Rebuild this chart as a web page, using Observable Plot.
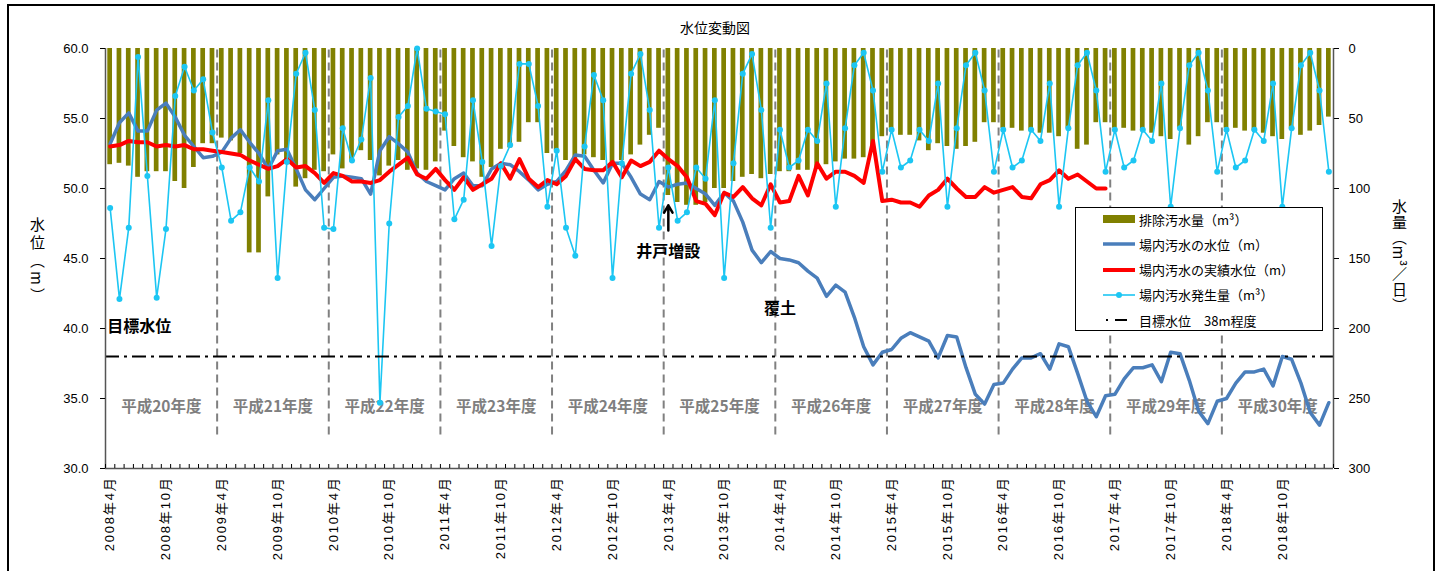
<!DOCTYPE html>
<html><head><meta charset="utf-8">
<script src="https://cdn.jsdelivr.net/npm/d3@7"></script>
<script src="https://cdn.jsdelivr.net/npm/@observablehq/plot@0.6"></script>
<style>
body{margin:0;background:#fff;}
#wrap{position:relative;width:1444px;height:571px;overflow:hidden;font-family:"Liberation Sans","Noto Sans CJK JP",sans-serif;background:#fff;}
#frame{position:absolute;left:7px;top:4px;width:1424px;height:700px;border:2px solid #000;pointer-events:none;}
#title{position:absolute;left:0;width:1430px;top:17px;text-align:center;font-size:14px;font-family:"Noto Sans CJK JP",sans-serif;}
.vlab{position:absolute;writing-mode:vertical-rl;font-size:15px;font-family:"Noto Sans CJK JP",sans-serif;line-height:1;}
#legend{position:absolute;left:1075px;top:207px;width:246px;height:122px;border:1px solid #000;background:#fff;font-family:"Noto Sans CJK JP",sans-serif;font-size:13px;}
#legend .row{position:absolute;left:27px;height:20px;display:flex;align-items:center;}
#legend svg{margin-right:2px;}
g[aria-label="x-axis tick label"] text{letter-spacing:1.8px;}
</style></head><body><div id="wrap"><div id="chart"></div>
<div id="title">水位変動図</div>
<div class="vlab" style="left:30px;top:217px;letter-spacing:3px;">水位（m）</div>
<div class="vlab" style="left:1392px;top:199px;letter-spacing:0.5px;">水量（m³／日）</div>
<div id="legend"></div>
<div id="frame"></div>
</div>
<script>
// ---- categories: months from 2008年4月 to 2019年3月 ----
const startYear = 2008, startMonth = 4, monthCount = 132;
const monthLabels = d3.range(monthCount).map(i => {
  const m0 = startMonth - 1 + i;
  return `${startYear + Math.floor(m0 / 12)}年${(m0 % 12) + 1}月`;
});
const fiscalYearLabels = ["平成20年度","平成21年度","平成22年度","平成23年度","平成24年度","平成25年度","平成26年度","平成27年度","平成28年度","平成29年度","平成30年度"];

// ---- series (right axis, m3) 排除汚水量 ----
const discharge = [
  83, 82, 84, 92, 88, 88, 88, 95, 100, 85, 68, 68,
  64, 66, 75, 146, 146, 106, 76, 80, 99, 93, 87, 88,
  76, 86, 81, 73, 80, 91, 84, 80, 87, 86, 87, 81,
  59, 70, 78, 81, 92, 85, 72, 71, 67, 53, 53, 75,
  73, 80, 82, 76, 78, 80, 82, 80, 76, 69, 62, 57,
  105, 110, 112, 112, 110, 100, 100, 95, 92, 90, 93, 90,
  88, 88, 87, 87, 85, 83, 81, 79, 79, 78, 73, 63,
  57, 62, 62, 66, 73, 68, 70, 72, 70, 67, 53, 53,
  57, 57, 59, 59, 60.5, 60.5, 63, 57, 72, 69, 53, 53,
  57, 57, 59, 59, 60.5, 63, 65, 57, 69, 63, 53, 53,
  57, 57, 59, 59, 60.5, 63, 65, 57, 62, 59, 55, 49
];
// 場内汚水発生量 (right axis, m3/日)
const generation = [
  114, 179, 128, 6, 91, 178, 129, 34, 13, 30, 22, 60,
  85, 123, 117, 85, 95, 37, 164, 81, 18, 3, 44, 128,
  129, 57, 80, 65, 21, 253, 125, 49, 41, 0, 43, 45,
  47, 122, 108, 37, 81, 141, 84, 69, 11, 11, 41, 113,
  73, 128, 148, 70, 19, 37, 164, 82, 18, 4, 44, 128,
  85, 123, 117, 85, 93, 37, 164, 82, 18, 4, 44, 128,
  58, 85, 80, 58, 66, 25, 113, 57, 12, 3, 30, 88,
  58, 85, 80, 58, 66, 25, 113, 57, 12, 3, 30, 88,
  58, 85, 80, 58, 66, 25, 113, 57, 12, 3, 30, 88,
  58, 85, 80, 58, 66, 25, 113, 57, 12, 3, 30, 88,
  58, 85, 80, 58, 66, 25, 113, 57, 12, 3, 30, 88
];
// 場内汚水の水位 (left axis, m)
const waterLevel = [
  53.2, 54.7, 55.4, 54.1, 54.1, 55.6, 56.1, 55.1, 53.8, 53.0, 52.2, 52.3,
  52.6, 53.6, 54.2, 53.3, 52.5, 51.4, 52.7, 52.8, 51.4, 49.9, 49.2, 50.0,
  50.8, 50.9, 50.8, 50.7, 49.6, 52.7, 53.7, 53.2, 52.6, 51.1, 50.5, 50.2,
  49.9, 50.7, 51.1, 50.2, 50.2, 51.4, 51.8, 51.7, 51.2, 50.6, 49.9, 50.3,
  50.5, 51.3, 52.4, 52.3, 51.3, 50.4, 51.8, 51.8, 50.8, 49.6, 49.2, 50.5,
  50.1, 50.3, 50.4, 50.0, 49.6, 48.8, 49.7, 49.1, 47.6, 45.6, 44.7, 45.5,
  45.0, 44.9, 44.7, 44.1, 43.6, 42.3, 43.1, 42.6, 40.8, 38.7, 37.4, 38.3,
  38.5, 39.3, 39.7, 39.4, 39.1, 37.9, 39.5, 39.4, 37.2, 35.3, 34.6, 36.0,
  36.1, 37.1, 37.9, 37.9, 38.2, 37.1, 38.9, 38.7, 36.8, 34.8, 33.7, 35.2,
  35.3, 36.4, 37.2, 37.2, 37.4, 36.2, 38.3, 38.2, 36.3, 34.1, 33.2, 34.8,
  35.0, 36.1, 36.9, 36.9, 37.1, 35.9, 38.0, 37.8, 36.1, 34.0, 33.1, 34.7
];
// 場内汚水の実績水位 (left axis, m) – until 2017年3月
const actualLevel = [
  53.0, 53.1, 53.4, 53.3, 53.3, 53.0, 53.1, 53.0, 53.1, 52.8, 52.8, 52.7,
  52.6, 52.5, 52.4, 52.0, 51.7, 51.4, 51.6, 52.1, 51.5, 51.6, 51.1, 50.4,
  51.1, 50.9, 50.5, 50.5, 50.4, 50.6, 51.2, 51.7, 52.2, 51.0, 50.7, 51.4,
  50.6, 49.9, 50.8, 49.9, 50.3, 50.7, 51.8, 50.7, 52.1, 50.7, 50.1, 50.6,
  50.3, 50.9, 52.1, 51.4, 51.3, 51.3, 51.9, 50.8, 52.0, 51.6, 51.9, 52.7,
  52.1, 51.6, 50.8, 49.1, 48.9, 48.1, 49.7, 49.4, 50.1, 49.3, 48.8, 50.3,
  49.0, 49.1, 50.9, 49.5, 51.8, 50.7, 51.2, 51.2, 50.9, 50.4, 53.4, 49.1,
  49.2, 49.0, 49.0, 48.7, 49.5, 49.9, 50.7, 50.0, 49.4, 49.4, 50.1, 49.7,
  49.9, 50.1, 49.4, 49.3, 50.3, 50.6, 51.3, 50.7, 51.0, 50.5, 50.0, 50.0
];
// ---- axes ----
const leftTicks = [30, 35, 40, 45, 50, 55, 60];
const leftDomain = [30, 60];
const rightDomain = [0, 300]; // inverted: 0 at top
const targetLevel = 38;
const yearLabelLevel = 34.4;
const yearRuleBottom = 32.4;
const targetNote = [{label: "目標水位", i: 0, y: 40.1}];
const annotations = [
  {label: "井戸増設", i: 60, y: 45.5},
  {label: "覆土", i: 72, y: 41.4}
];
const wellArrow = {i: 60, from: 47.0, to: 48.8};

// right-axis value -> left-axis scale
const toLeft = v => leftDomain[1] - (v - rightDomain[0]) * (leftDomain[1] - leftDomain[0]) / (rightDomain[1] - rightDomain[0]);

const rows = d3.range(monthCount).map(i => ({
  i, label: monthLabels[i],
  discharge: discharge[i], generation: generation[i],
  level: waterLevel[i], actual: i < actualLevel.length ? actualLevel[i] : null
}));
const fy = fiscalYearLabels.map((t, k) => ({t, k}));

const cyan = "#1cc6f3", blue = "#4a7ebb", olive = "#808000";
const jp = '"Noto Sans CJK JP",sans-serif';

const chart = Plot.plot({
  width: 1444, height: 571,
  marginLeft: 105, marginRight: 111, marginTop: 48, marginBottom: 103,
  x: {type: "linear", domain: [-0.5, monthCount - 0.5]},
  y: {domain: leftDomain},
  style: {fontFamily: '"Liberation Sans","Noto Sans CJK JP",sans-serif', fontSize: "13px", background: "transparent", overflow: "visible", color: "#000"},
  marks: [
    Plot.rectY(rows, {x1: d => d.i - 0.5, x2: d => d.i + 0.5, y1: leftDomain[1], y2: d => toLeft(d.discharge), fill: olive, insetLeft: 2.3, insetRight: 2.3}),
    Plot.ruleX(fy.slice(1), {x: d => d.k * 12 - 0.5, y1: yearRuleBottom, y2: leftDomain[1], stroke: "#808080", strokeWidth: 2, strokeDasharray: "8,5"}),
    Plot.text(fy, {x: d => d.k * 12 + 5.5, y: yearLabelLevel, text: "t", fill: "#7f7f7f", fontWeight: "bold", fontSize: 15.5, fontFamily: jp}),
    Plot.line(rows, {x: "i", y: "level", stroke: blue, strokeWidth: 3.5, strokeLinejoin: "round"}),
    Plot.line(rows.filter(d => d.actual != null), {x: "i", y: "actual", stroke: "#ff0000", strokeWidth: 4, strokeLinejoin: "round"}),
    Plot.line(rows, {x: "i", y: d => toLeft(d.generation), stroke: cyan, strokeWidth: 1.6}),
    Plot.dot(rows, {x: "i", y: d => toLeft(d.generation), r: 3, fill: cyan, stroke: null}),
    Plot.ruleY([targetLevel], {stroke: "#000", strokeWidth: 2, strokeDasharray: "14,5,3,5"}),
    Plot.text(targetNote, {x: "i", y: "y", text: "label", textAnchor: "start", dx: -3, fontWeight: "bold", fontSize: 16, fill: "#000", fontFamily: jp}),
    Plot.text(annotations, {x: "i", y: "y", text: "label", fontWeight: "bold", fontSize: 16, fill: "#000", fontFamily: jp}),
    Plot.arrow([wellArrow], {x: "i", y1: "from", y2: "to", stroke: "#000", strokeWidth: 2.5, headLength: 9}),
    Plot.ruleX([-0.5, monthCount - 0.5], {stroke: "#555", strokeWidth: 1.5}),
    Plot.ruleY([leftDomain[0]], {stroke: "#555", strokeWidth: 1.5}),
    Plot.axisY({anchor: "left", ticks: leftTicks, tickFormat: d => d.toFixed(1), tickSize: 5, tickPadding: 12, label: null}),
    Plot.axisY({anchor: "right", ticks: leftTicks, tickFormat: d => String(Math.round((leftDomain[1] - d) * 10)), tickSize: 5, tickPadding: 10, label: null}),
    Plot.axisX({ticks: d3.range(-0.5, monthCount, 1), tickFormat: () => "", tickSize: -4, label: null}),
    Plot.axisX({ticks: d3.range(0, monthCount, 6), tickFormat: i => monthLabels[i], tickRotate: -90, tickSize: 0, tickPadding: 8, label: null, fontSize: 13})
  ]
});
document.getElementById("chart").appendChild(chart);

// ---- legend ----
const legendItems = [
  {t: "排除汚水量（m³）", sw: `<rect x="0" y="6" width="32" height="8" fill="${olive}"/>`},
  {t: "場内汚水の水位（m）", sw: `<line x1="0" x2="32" y1="10" y2="10" stroke="${blue}" stroke-width="3.5"/>`},
  {t: "場内汚水の実績水位（m）", sw: `<line x1="0" x2="32" y1="10" y2="10" stroke="#ff0000" stroke-width="4"/>`},
  {t: "場内汚水発生量（m³）", sw: `<line x1="0" x2="32" y1="10" y2="10" stroke="${cyan}" stroke-width="1.6"/><circle cx="16" cy="10" r="3" fill="${cyan}"/>`},
  {t: "目標水位　38m程度", sw: `<line x1="12" x2="24" y1="10" y2="10" stroke="#000" stroke-width="2"/><line x1="3" x2="5" y1="10" y2="10" stroke="#000" stroke-width="2"/>`}
];
const lg = document.getElementById("legend");
legendItems.forEach((d, k) => {
  const r = document.createElement("div");
  r.className = "row";
  r.style.top = (1 + k * 25.3) + "px";
  r.innerHTML = `<svg width="34" height="20">${d.sw}</svg><span>${d.t}</span>`;
  lg.appendChild(r);
});
</script>
</body></html>
